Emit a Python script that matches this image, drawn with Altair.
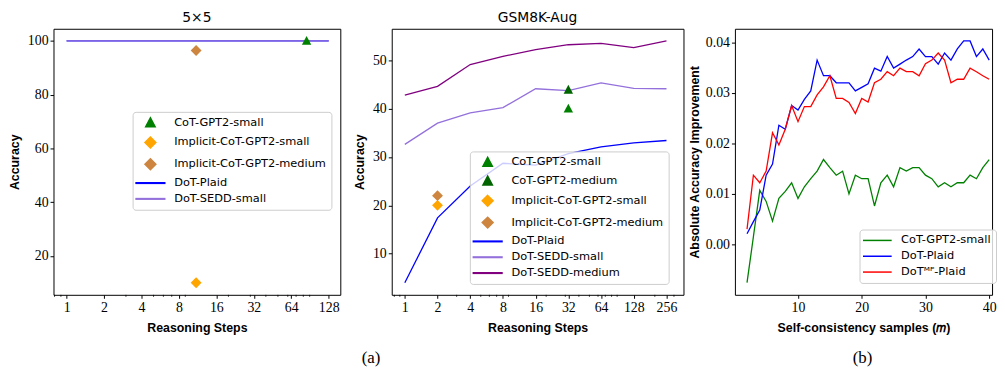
import altair as alt
import pandas as pd

# ---------------- data ----------------
# (a) left: 5x5 multiplication
steps_5x5 = [1, 2, 4, 8, 16, 32, 64, 128]
plaid_5x5 = [100, 100, 100, 100, 100, 100, 100, 100]
sedd_small_5x5 = [100, 100, 100, 100, 100, 100, 100, 100]
cot_small_5x5_steps = [85]
cot_small_5x5_acc = [100.0]
implicit_small_5x5_steps = [11]
implicit_small_5x5_acc = [10.0]
implicit_medium_5x5_steps = [11]
implicit_medium_5x5_acc = [96.4]

# (a) right: GSM8K-Aug
steps_gsm = [1, 2, 4, 8, 16, 32, 64, 128, 256]
plaid_gsm = [4.0, 17.4, 24.0, 28.7, 28.3, 30.7, 32.1, 32.9, 33.4]
sedd_small_gsm = [32.6, 37.0, 39.1, 40.2, 44.1, 43.7, 45.3, 44.2, 44.1]
sedd_medium_gsm = [42.8, 44.6, 49.1, 50.8, 52.2, 53.2, 53.5, 52.6, 54.0]
cot_small_gsm_steps = [32]
cot_small_gsm_acc = [40.0]
cot_medium_gsm_steps = [32]
cot_medium_gsm_acc = [43.9]
implicit_small_gsm_steps = [2]
implicit_small_gsm_acc = [20.0]
implicit_medium_gsm_steps = [2]
implicit_medium_gsm_acc = [22.0]

# minor tick positions of the log axes (base-10 minor ticks)
minor_ticks_5x5 = [0.8, 0.9, 3, 5, 6, 7, 9, 20, 30, 40, 50, 60, 70, 80, 90]
minor_ticks_gsm = [0.8, 0.9, 3, 5, 6, 7, 9, 20, 30, 40, 50, 60, 70, 80, 90, 200, 300]

# (b): self-consistency
samples_m = list(range(2, 41))
cot_small_sc = [-0.0076, 0.0015, 0.0107, 0.0085, 0.0046, 0.0091, 0.0105, 0.0122, 0.0091, 0.0114,
                0.0130, 0.0145, 0.0168, 0.0152, 0.0137, 0.0145, 0.0100, 0.0137, 0.0130, 0.0130,
                0.0076, 0.0122, 0.0137, 0.0114, 0.0152, 0.0145, 0.0152, 0.0152, 0.0137, 0.0130,
                0.0114, 0.0122, 0.0114, 0.0122, 0.0122, 0.0137, 0.0130, 0.0152, 0.0168]
plaid_sc = [0.0021, 0.0045, 0.0068, 0.0137, 0.0159, 0.0236, 0.0228, 0.0275, 0.0266, 0.0287,
            0.0304, 0.0365, 0.0334, 0.0334, 0.0320, 0.0320, 0.0320, 0.0304, 0.0311, 0.0318,
            0.0349, 0.0343, 0.0372, 0.0349, 0.0357, 0.0365, 0.0372, 0.0387, 0.0372, 0.0372,
            0.0357, 0.0379, 0.0365, 0.0387, 0.0403, 0.0403, 0.0372, 0.0387, 0.0365]
plaid_mp_sc = [0.0030, 0.0137, 0.0122, 0.0145, 0.0221, 0.0197, 0.0228, 0.0275, 0.0243, 0.0273,
               0.0273, 0.0296, 0.0312, 0.0334, 0.0289, 0.0289, 0.0281, 0.0259, 0.0289, 0.0282,
               0.0320, 0.0327, 0.0342, 0.0334, 0.0349, 0.0342, 0.0342, 0.0334, 0.0358, 0.0365,
               0.0379, 0.0365, 0.0320, 0.0327, 0.0327, 0.0349, 0.0342, 0.0334, 0.0327]

panel_titles = ["5×5", "GSM8K-Aug"]
subfig_labels = ["(a)", "(b)"]

# ---------------- styles ----------------
H = 269
TRI = "M0,-1L0.95,0.8L-0.95,0.8Z"
DIA = "M0,-1.1L1.1,0L0,1.1L-1.1,0Z"
LINE = "M-2.9,-0.06L2.9,-0.06L2.9,0.06L-2.9,0.06Z"

GREEN, DGREEN, ORANGE, PERU = "#008000", "#006400", "#FFA500", "#CD853F"
BLUE, LAV, PURPLE, RED = "#0000FF", "#9370DB", "#800080", "#FF0000"

LEG = dict(orient="none", title=None, symbolSize=100, labelFont="DejaVu Sans",
           labelFontSize=11.5, labelColor="black", fillColor="rgba(255,255,255,0.8)",
           strokeColor="#cccccc", cornerRadius=3, padding=5, rowPadding=4,
           symbolOffset=7, labelOffset=18)


def long_df(xs, ys, name, xname, yname):
    return pd.DataFrame({xname: xs, yname: ys, "series": [name] * len(xs)})


def steps_panel(title, lines, points, minors, order, colors, shapes, xdom_exp, ydom, yticks, nticks,
                width, lx, ly, label=None):
    cscale = alt.Scale(domain=order, range=colors)
    sscale = alt.Scale(domain=order, range=shapes)
    leg = alt.Legend(legendX=lx, legendY=ly, **LEG)
    xticks = [2 ** k for k in range(nticks + 1)]
    x = alt.X("steps:Q",
              scale=alt.Scale(type="log", base=2, domain=[2 ** xdom_exp[0], 2 ** xdom_exp[1]], nice=False),
              axis=alt.Axis(values=xticks, format="d", title="Reasoning Steps", titlePadding=8))
    y = alt.Y("acc:Q", scale=alt.Scale(domain=ydom, nice=False, zero=False),
              axis=alt.Axis(values=yticks, format="d", title="Accuracy"))
    ln = alt.Chart(lines).mark_line(strokeWidth=1.3).encode(
        x=x, y=y, color=alt.Color("series:N", scale=cscale, legend=leg),
        detail="series:N")
    pt = alt.Chart(points).mark_point(filled=True, size=100, opacity=1).encode(
        x=x, y=y,
        color=alt.Color("series:N", scale=cscale, legend=leg),
        shape=alt.Shape("series:N", scale=sscale, legend=leg))
    mt = alt.Chart(pd.DataFrame({"steps": minors})).mark_rule(color="black", strokeWidth=0.8).encode(
        x=x, y=alt.value(H), y2=alt.value(H + 2))
    layers = [ln, pt, mt]
    if label is not None:
        layers.append(alt.Chart(pd.DataFrame({"t": [label]})).mark_text(
            font="Liberation Serif", fontSize=17, color="black").encode(
            text="t:N", x=alt.value(-21), y=alt.value(333)))
    return alt.layer(*layers).properties(width=width, height=H, title=title)


# panel 1
order1 = ["CoT-GPT2-small", "Implicit-CoT-GPT2-small", "Implicit-CoT-GPT2-medium", "DoT-Plaid", "DoT-SEDD-small"]
lines1 = pd.concat([long_df(steps_5x5, plaid_5x5, "DoT-Plaid", "steps", "acc"),
                    long_df(steps_5x5, sedd_small_5x5, "DoT-SEDD-small", "steps", "acc")])
pts1 = pd.concat([long_df(cot_small_5x5_steps, cot_small_5x5_acc, "CoT-GPT2-small", "steps", "acc"),
                  long_df(implicit_small_5x5_steps, implicit_small_5x5_acc, "Implicit-CoT-GPT2-small", "steps", "acc"),
                  long_df(implicit_medium_5x5_steps, implicit_medium_5x5_acc, "Implicit-CoT-GPT2-medium", "steps", "acc")])
p1 = steps_panel(panel_titles[0], lines1, pts1, minor_ticks_5x5, order1,
                 [GREEN, ORANGE, PERU, BLUE, LAV], [TRI, DIA, DIA, LINE, LINE],
                 (-0.35, 7.31), [5.5, 104.5], [20, 40, 60, 80, 100], 7, 290, 80, 84)

# panel 2
order2 = ["CoT-GPT2-small", "CoT-GPT2-medium", "Implicit-CoT-GPT2-small", "Implicit-CoT-GPT2-medium",
          "DoT-Plaid", "DoT-SEDD-small", "DoT-SEDD-medium"]
lines2 = pd.concat([long_df(steps_gsm, plaid_gsm, "DoT-Plaid", "steps", "acc"),
                    long_df(steps_gsm, sedd_small_gsm, "DoT-SEDD-small", "steps", "acc"),
                    long_df(steps_gsm, sedd_medium_gsm, "DoT-SEDD-medium", "steps", "acc")])
pts2 = pd.concat([long_df(cot_small_gsm_steps, cot_small_gsm_acc, "CoT-GPT2-small", "steps", "acc"),
                  long_df(cot_medium_gsm_steps, cot_medium_gsm_acc, "CoT-GPT2-medium", "steps", "acc"),
                  long_df(implicit_small_gsm_steps, implicit_small_gsm_acc, "Implicit-CoT-GPT2-small", "steps", "acc"),
                  long_df(implicit_medium_gsm_steps, implicit_medium_gsm_acc, "Implicit-CoT-GPT2-medium", "steps", "acc")])
p2 = steps_panel(panel_titles[1], lines2, pts2, minor_ticks_gsm, order2,
                 [GREEN, DGREEN, ORANGE, PERU, BLUE, LAV, PURPLE], [TRI, TRI, DIA, DIA, LINE, LINE, LINE],
                 (-0.4, 8.52), [1.5, 56.5], [10, 20, 30, 40, 50], 8, 295, 79, 124, label=subfig_labels[0])

# panel 3
order3 = ["CoT-GPT2-small", "DoT-Plaid", "DoTᴹᴾ-Plaid"]
lines3 = pd.concat([long_df(samples_m, cot_small_sc, order3[0], "m", "imp"),
                    long_df(samples_m, plaid_sc, order3[1], "m", "imp"),
                    long_df(samples_m, plaid_mp_sc, order3[2], "m", "imp")])
leg3 = alt.Legend(legendX=126, legendY=203, symbolType="M-2.9,0L2.9,0", symbolStrokeWidth=1.5,
                  **LEG)
ln3 = alt.Chart(lines3).mark_line(strokeWidth=1.3).encode(
    x=alt.X("m:Q", scale=alt.Scale(domain=[0.1, 40.45], nice=False, zero=False),
            axis=alt.Axis(values=[10, 20, 30, 40], format="d", title="Self-consistency samples (𝑚)",
                          titlePadding=8)),
    y=alt.Y("imp:Q", scale=alt.Scale(domain=[-0.0100, 0.0427], nice=False, zero=False),
            axis=alt.Axis(values=[0.0, 0.01, 0.02, 0.03, 0.04], format=".2f",
                          title="Absolute Accuracy Improvement", titlePadding=4)),
    color=alt.Color("series:N", scale=alt.Scale(domain=order3, range=[GREEN, BLUE, RED]), legend=leg3))
txt3 = alt.Chart(pd.DataFrame({"t": [subfig_labels[1]]})).mark_text(
    font="Liberation Serif", fontSize=17, color="black").encode(
    text="t:N", x=alt.value(129), y=alt.value(333))
p3 = alt.layer(ln3, txt3).properties(width=260, height=H)

chart = alt.hconcat(p1, p2, p3, spacing=52, bounds="flush").resolve_scale(
    color="independent", shape="independent"
).properties(
    padding={"left": 0, "top": 0, "right": 0, "bottom": 0}
).configure_view(
    stroke="black", strokeWidth=1
).configure_axis(
    grid=False, domain=False, tickColor="black", tickSize=3.5, tickWidth=1,
    labelFont="Liberation Serif", labelFontSize=14, labelColor="black", labelPadding=2,
    titleFont="Liberation Sans", titleFontWeight="bold", titleFontSize=12.5, titleColor="black",
    titlePadding=6
).configure_title(
    font="DejaVu Sans", fontSize=14, fontWeight="normal", color="black", offset=0
)

chart.save("out.html", embed_options={"renderer": "svg", "actions": False})
